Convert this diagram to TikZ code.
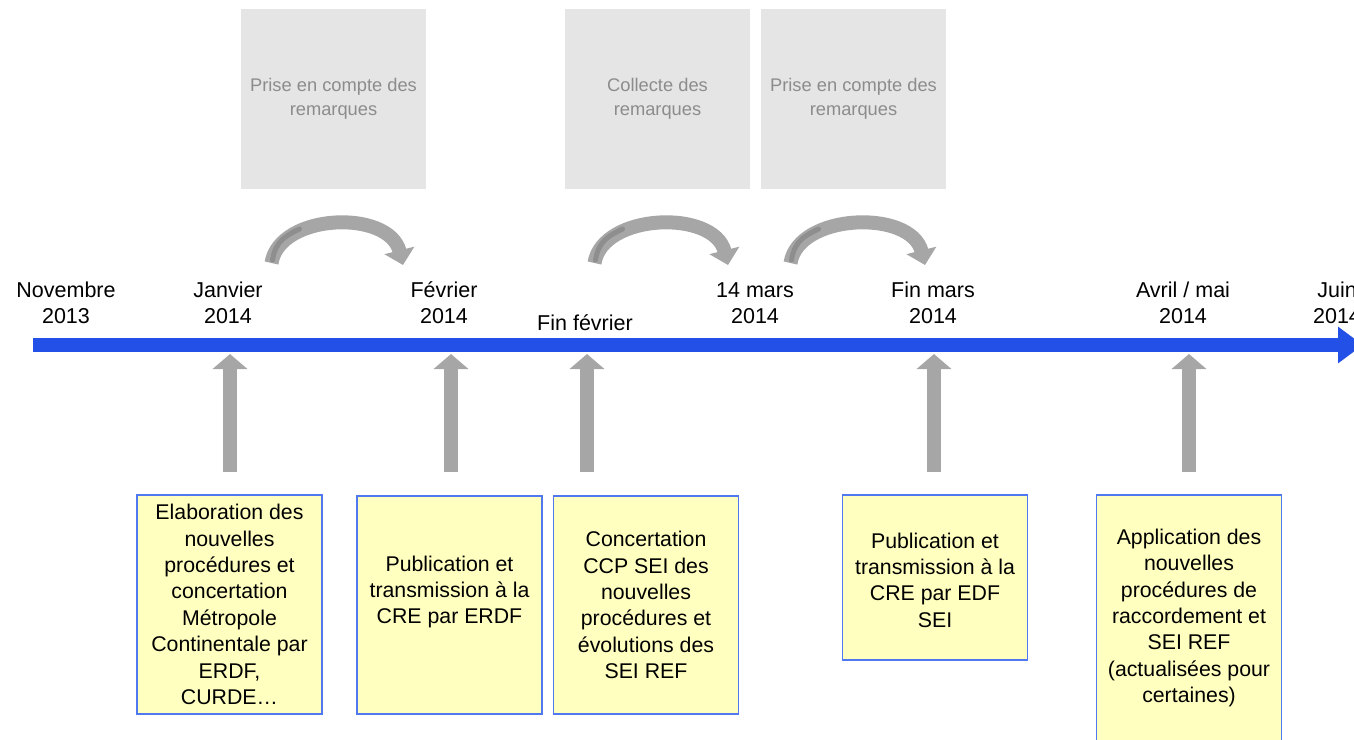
\documentclass[tikz,border=0pt]{standalone}
\usepackage{fontspec}
\setmainfont{Liberation Sans}
\usetikzlibrary{arrows.meta,calc}
\definecolor{tlblue}{RGB}{35,80,230}
\definecolor{arrgray}{RGB}{166,166,166}
\definecolor{stripegray}{RGB}{142,142,142}
\definecolor{yfill}{RGB}{255,255,192}
\definecolor{yborder}{RGB}{80,120,240}
\definecolor{gfill}{RGB}{229,229,229}
\definecolor{gtext}{RGB}{140,140,140}
\tikzset{
  ybox/.style={draw=yborder, line width=1.2pt, fill=yfill, minimum width=185pt, inner sep=0pt},
  btext/.style={align=center, inner sep=0pt, font=\fontsize{21.3}{26.4}\selectfont},
  gbox/.style={fill=gfill, minimum width=185pt, minimum height=180pt, inner sep=0pt, align=center,
     text=gtext, font=\fontsize{18.3}{24}\selectfont},
  datelab/.style={align=center, inner sep=0pt, font=\fontsize{21.5}{26}\selectfont},
  timeline/.style={draw=tlblue, line width=14pt, -{Triangle[width=35pt,length=25pt]}},
  uparrow/.style={draw=arrgray, line width=14pt, -{Triangle[width=34pt,length=15pt]}},
  curvarrow/.style={draw=arrgray, line width=14pt, -{Triangle[width=30pt,length=15pt]}},
  curvstripe/.style={draw=stripegray, line width=5pt, line cap=round},
}
\begin{document}
\begin{tikzpicture}[x=1pt,y=-1pt]
\useasboundingbox (0,0) rectangle (1354,739);
\clip (0,0) rectangle (1354,739);

% top gray boxes
\node[gbox] (gA) at (333.5,99) {Prise en compte des\\remarques};
\node[gbox] (gB) at (657.5,99) {Collecte des\\remarques};
\node[gbox] (gC) at (853.5,99) {Prise en compte des\\remarques};

% curved arrows
\coordinate (c1s) at (271.5,263);
\coordinate (c1e) at (403,265);
\coordinate (c2s) at (594.5,263);
\coordinate (c2e) at (728,265);
\coordinate (c3s) at (790.5,263);
\coordinate (c3e) at (925,265);
\draw[curvarrow] (c1s) .. controls ++(8,-50) and ++(-14,-56) .. (c1e);
\draw[curvstripe] ($(c1s)+(1,-3)$) .. controls ++(3,-20) and ++(-12,6) .. ++(27,-31);
\draw[curvarrow] (c2s) .. controls ++(8,-50) and ++(-14,-56) .. (c2e);
\draw[curvstripe] ($(c2s)+(1,-3)$) .. controls ++(3,-20) and ++(-12,6) .. ++(27,-31);
\draw[curvarrow] (c3s) .. controls ++(8,-50) and ++(-14,-56) .. (c3e);
\draw[curvstripe] ($(c3s)+(1,-3)$) .. controls ++(3,-20) and ++(-12,6) .. ++(27,-31);

% date labels
\node[datelab] (d1) at (66,303) {Novembre\\2013};
\node[datelab] (d2) at (228,303) {Janvier\\2014};
\node[datelab] (d3) at (444,303) {Février\\2014};
\node[datelab] (d4) at (585,323) {Fin février};
\node[datelab] (d5) at (755,303) {14 mars\\2014};
\node[datelab] (d6) at (933,303) {Fin mars\\2014};
\node[datelab] (d7) at (1183,303) {Avril / mai\\2014};
\node[datelab] (d8) at (1337,303) {Juin\\2014};

% timeline
\coordinate (tls) at (33,345);
\coordinate (tle) at (1363,345);
\draw[timeline] (tls) -- (tle);

% up arrows
\foreach \i/\x in {1/230,2/451,3/587,4/934,5/1189}{
  \coordinate (u\i s) at (\x,472);
  \coordinate (u\i e) at (\x,354);
  \draw[uparrow] (u\i s) -- (u\i e);
}

% yellow boxes
\node[ybox, minimum height=219pt] (b1) at (229.5,604.5) {};
\node[btext] (t1) at (229.5,604.5) {Elaboration des\\nouvelles\\procédures et\\concertation\\Métropole\\Continentale par\\ERDF,\\CURDE…};
\node[ybox, minimum height=218pt] (b2) at (449.5,605) {};
\node[btext] (t2) at (449.5,592) {Publication et\\transmission à la\\CRE par ERDF};
\node[ybox, minimum height=218pt] (b3) at (646,605) {};
\node[btext] (t3) at (646,605) {Concertation\\CCP SEI des\\nouvelles\\procédures et\\évolutions des\\SEI REF};
\node[ybox, minimum height=165pt] (b4) at (935,577.5) {};
\node[btext] (t4) at (935,580) {Publication et\\transmission à la\\CRE par EDF\\SEI};
\node[ybox, minimum height=265pt] (b5) at (1189,627.5) {};
\node[btext] (t5) at (1189,618) {Application des\\nouvelles\\procédures de\\raccordement et\\SEI REF\\(actualisées pour\\certaines)};
\end{tikzpicture}
\end{document}
